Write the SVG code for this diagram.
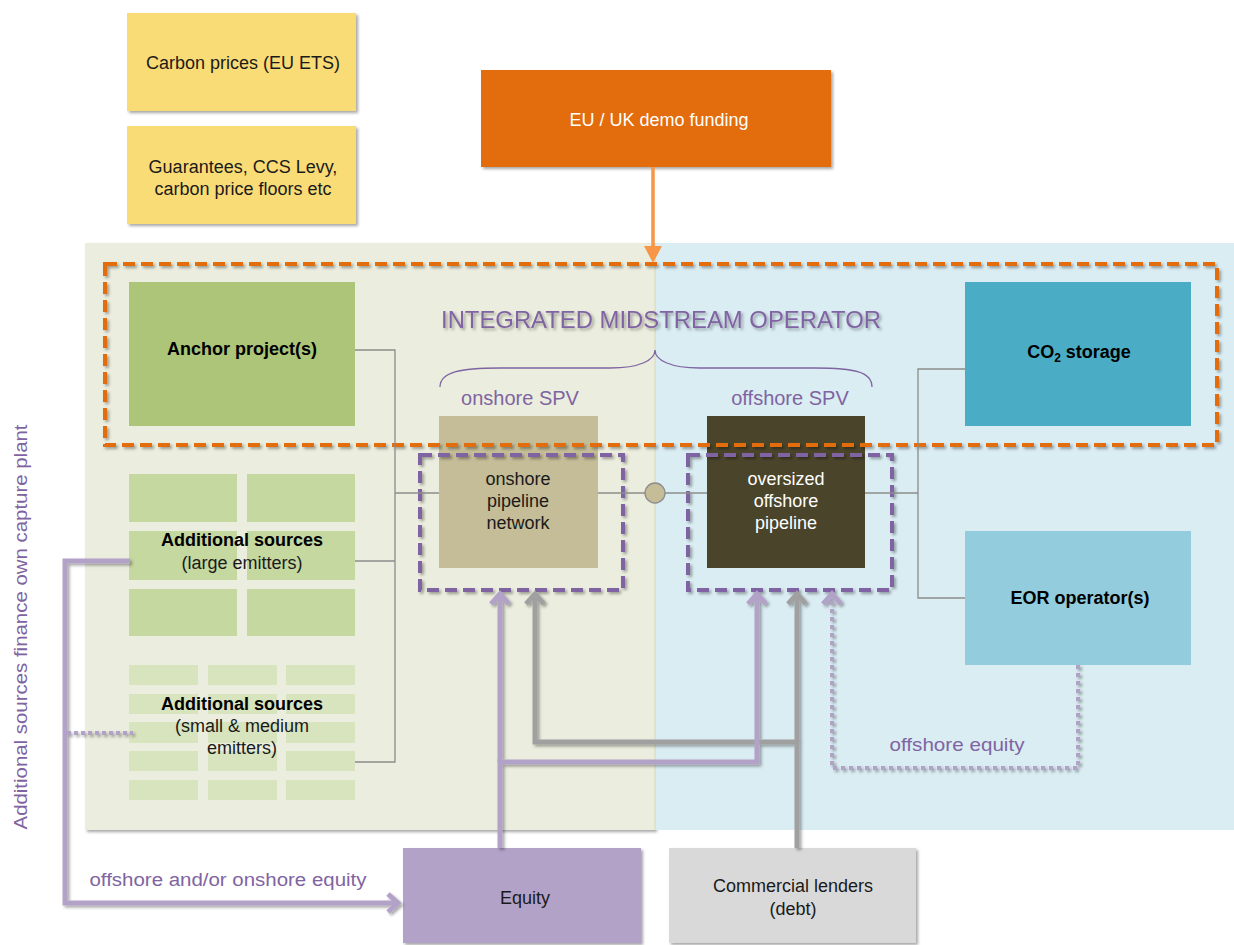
<svg xmlns="http://www.w3.org/2000/svg" width="1234" height="945" viewBox="0 0 1234 945">
<style>
text{font-family:"Liberation Sans",Arial,sans-serif;}
.lbl{font-size:18px;fill:#1a1a1a;text-anchor:middle;}
.bold{font-size:18px;font-weight:bold;fill:#000;text-anchor:middle;}
.pur{fill:#8064A2;text-anchor:middle;}
.thin{fill:none;stroke:#8c8c8c;stroke-width:1.3;}
.pthick{fill:none;stroke:#B3A2C7;stroke-width:5;}
.gthick{fill:none;stroke:#A0A0A0;stroke-width:5;}
.lg{fill:#C5D8A0;}
.sm{fill:#D8E4BE;}
</style>
<defs>
<filter id="sh" x="-10%" y="-10%" width="130%" height="130%">
<feDropShadow dx="2" dy="2" stdDeviation="1.5" flood-color="#000" flood-opacity="0.35"/>
</filter>
<marker id="ap" viewBox="0 0 16 22" refX="13" refY="11" markerWidth="16" markerHeight="22" markerUnits="userSpaceOnUse" orient="auto">
<polyline points="2,2 12,11 2,20" fill="none" stroke="#B3A2C7" stroke-width="5"/>
</marker>
<marker id="ag" viewBox="0 0 16 22" refX="13" refY="11" markerWidth="16" markerHeight="22" markerUnits="userSpaceOnUse" orient="auto">
<polyline points="2,2 12,11 2,20" fill="none" stroke="#A0A0A0" stroke-width="5"/>
</marker>
</defs>
<rect width="1234" height="945" fill="#fff"/>

<g id="panels">
<rect x="85" y="243" width="570" height="587" fill="#EBEEDE" filter="url(#sh)"/>
<rect x="655" y="243" width="579" height="587" fill="#DAEDF3"/>
<line x1="655" y1="243" x2="655" y2="830" stroke="#D8D8B8" stroke-width="1"/>
</g>

<g id="carbon-prices">
<rect x="127" y="13" width="229" height="98" fill="#FADC76" filter="url(#sh)"/>
<text class="lbl" x="243" y="69">Carbon prices (EU ETS)</text>
</g>
<g id="guarantees">
<rect x="127" y="126" width="229" height="98" fill="#FADC76" filter="url(#sh)"/>
<text class="lbl" x="243" y="173">Guarantees, CCS Levy,</text>
<text class="lbl" x="243" y="195">carbon price floors etc</text>
</g>
<g id="eu-uk">
<rect x="481" y="70" width="350" height="97" fill="#E36C0A" filter="url(#sh)"/>
<text class="lbl" x="659" y="126" style="fill:#fff">EU / UK demo funding</text>
</g>

<g id="anchor">
<rect x="129" y="282" width="226" height="144" fill="#ACC578"/>
<text class="bold" x="242" y="355">Anchor project(s)</text>
</g>

<g id="large-emitters">
<rect class="lg" x="129" y="474" width="108" height="48"/>
<rect class="lg" x="247" y="474" width="108" height="48"/>
<rect class="lg" x="129" y="531" width="108" height="49"/>
<rect class="lg" x="247" y="531" width="108" height="49"/>
<rect class="lg" x="129" y="589" width="108" height="47"/>
<rect class="lg" x="247" y="589" width="108" height="47"/>
<text class="bold" x="242" y="546">Additional sources</text>
<text class="lbl" x="242" y="569">(large emitters)</text>
</g>

<g id="small-emitters">
<rect class="sm" x="129" y="665" width="69" height="20"/>
<rect class="sm" x="208" y="665" width="69" height="20"/>
<rect class="sm" x="286" y="665" width="69" height="20"/>
<rect class="sm" x="129" y="694" width="69" height="20"/>
<rect class="sm" x="208" y="694" width="69" height="20"/>
<rect class="sm" x="286" y="694" width="69" height="20"/>
<rect class="sm" x="129" y="722" width="69" height="21"/>
<rect class="sm" x="208" y="722" width="69" height="21"/>
<rect class="sm" x="286" y="722" width="69" height="21"/>
<rect class="sm" x="129" y="751" width="69" height="20"/>
<rect class="sm" x="208" y="751" width="69" height="20"/>
<rect class="sm" x="286" y="751" width="69" height="20"/>
<rect class="sm" x="129" y="780" width="69" height="20"/>
<rect class="sm" x="208" y="780" width="69" height="20"/>
<rect class="sm" x="286" y="780" width="69" height="20"/>
<text class="bold" x="242" y="710">Additional sources</text>
<text class="lbl" x="242" y="732">(small &amp; medium</text>
<text class="lbl" x="242" y="754">emitters)</text>
</g>

<g id="co2-storage">
<rect x="965" y="282" width="226" height="144" fill="#4BACC6"/>
<text class="bold" x="1079" y="358">CO<tspan font-size="12" dy="4">2</tspan><tspan dy="-4"> storage</tspan></text>
</g>
<g id="eor">
<rect x="965" y="531" width="226" height="134" fill="#93CDDD"/>
<text class="bold" x="1080" y="604">EOR operator(s)</text>
</g>

<g id="onshore-pipeline">
<rect x="439" y="416" width="159" height="152" fill="#C4BD97"/>
<text class="lbl" x="518" y="485">onshore</text>
<text class="lbl" x="518" y="507">pipeline</text>
<text class="lbl" x="518" y="529">network</text>
</g>
<g id="offshore-pipeline">
<rect x="707" y="416" width="158" height="152" fill="#4A452A"/>
<text class="lbl" x="786" y="485" style="fill:#fff">oversized</text>
<text class="lbl" x="786" y="507" style="fill:#fff">offshore</text>
<text class="lbl" x="786" y="529" style="fill:#fff">pipeline</text>
</g>

<g id="equity">
<rect x="403" y="848" width="238" height="95" fill="#B3A2C7" filter="url(#sh)"/>
<text class="lbl" x="525" y="904">Equity</text>
</g>
<g id="lenders">
<rect x="669" y="848" width="247" height="95" fill="#D9D9D9" filter="url(#sh)"/>
<text class="lbl" x="793" y="892">Commercial lenders</text>
<text class="lbl" x="793" y="915">(debt)</text>
</g>

<g id="integrated-operator">
<rect x="105" y="264" width="1112" height="181" fill="none" stroke="#E36C0A" stroke-width="4" stroke-dasharray="12,6" filter="url(#sh)"/>
<text class="pur" x="661" y="328" font-size="24" textLength="440" lengthAdjust="spacingAndGlyphs" filter="url(#sh)">INTEGRATED MIDSTREAM OPERATOR</text>
<path d="M440,387 C440,372 460,368 500,368 L610,368 C640,368 655,360 655,350 C655,360 670,368 700,368 L815,368 C855,368 872,372 872,387" fill="none" stroke="#8064A2" stroke-width="1.3"/>
</g>
<g id="onshore-spv">
<rect x="420" y="455" width="203" height="135" fill="none" stroke="#8064A2" stroke-width="4" stroke-dasharray="12,6" filter="url(#sh)"/>
<text class="pur" x="520" y="405" font-size="20">onshore SPV</text>
</g>
<g id="offshore-spv">
<rect x="688" y="455" width="204" height="135" fill="none" stroke="#8064A2" stroke-width="4" stroke-dasharray="12,6" filter="url(#sh)"/>
<text class="pur" x="790" y="405" font-size="20">offshore SPV</text>
</g>

<g id="connectors">
<polyline class="thin" points="355,350 395,350 395,762 355,762"/>
<line class="thin" x1="355" y1="561" x2="395" y2="561"/>
<line class="thin" x1="395" y1="493" x2="439" y2="493"/>
<line class="thin" x1="598" y1="493" x2="707" y2="493"/>
<line class="thin" x1="865" y1="493" x2="918" y2="493"/>
<polyline class="thin" points="965,369 918,369 918,598 965,598"/>
<circle cx="655" cy="493" r="10" fill="#C4BD97" stroke="#8c8c8c" stroke-width="1.3"/>

<line x1="653" y1="167" x2="653" y2="248" stroke="#F79646" stroke-width="3.5"/>
<polygon points="644,246 662,246 653,263" fill="#F79646"/>

<g filter="url(#sh)">
<polyline class="gthick" points="797,848 797,742 535,742 535,593" marker-end="url(#ag)"/>
<line class="gthick" x1="797" y1="742" x2="797" y2="593" marker-end="url(#ag)"/>
<polyline class="pthick" points="500,848 500,762 757,762 757,593" marker-end="url(#ap)"/>
<line class="pthick" x1="500" y1="762" x2="500" y2="593" marker-end="url(#ap)"/>
<polyline points="1078,665 1078,768 832,768 832,593" fill="none" stroke="#B3A2C7" stroke-width="4" stroke-dasharray="4,4" marker-end="url(#ap)"/>
<polyline class="pthick" points="130,561 65,561 65,903 399,903" marker-end="url(#ap)"/>
<line x1="67" y1="733" x2="133" y2="733" stroke="#B3A2C7" stroke-width="4" stroke-dasharray="4,3"/>
</g>
</g>

<g id="labels">
<text class="pur" x="957" y="751" font-size="19" textLength="135" lengthAdjust="spacingAndGlyphs">offshore equity</text>
<text class="pur" x="228" y="886" font-size="18" textLength="277" lengthAdjust="spacingAndGlyphs">offshore and/or onshore equity</text>
<text class="pur" x="0" y="0" font-size="18" textLength="405" lengthAdjust="spacingAndGlyphs" transform="translate(27,627) rotate(-90)">Additional sources finance own capture plant</text>
</g>
</svg>
